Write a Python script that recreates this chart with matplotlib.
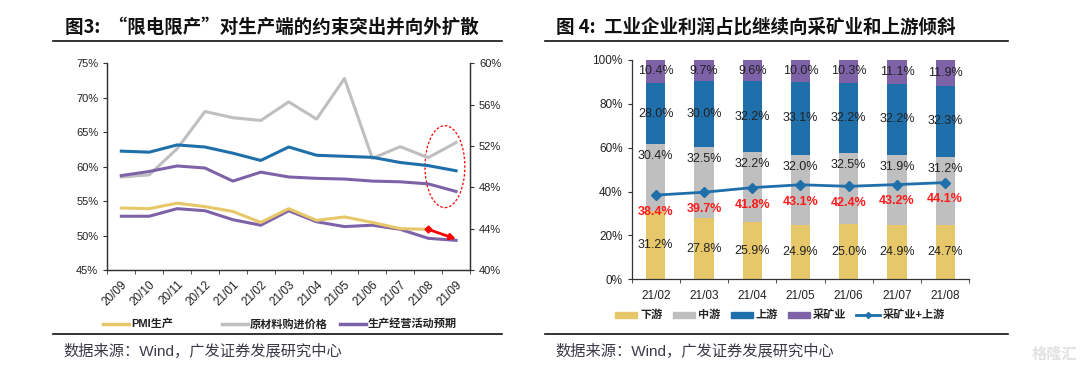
import matplotlib
matplotlib.use('Agg')
import matplotlib.pyplot as plt
from matplotlib.lines import Line2D
from matplotlib.patches import Ellipse, Rectangle
import numpy as np

plt.rcParams['font.family'] = ['Liberation Sans', 'Noto Sans CJK SC', 'DejaVu Sans']

# ---- 图3 数据 (PMI 分项, %) ----
months = ['20/09', '20/10', '20/11', '20/12', '21/01', '21/02', '21/03',
          '21/04', '21/05', '21/06', '21/07', '21/08', '21/09']
pmi_prod = [54.0, 53.9, 54.7, 54.2, 53.5, 51.9, 53.9, 52.2, 52.7, 51.9, 51.0, 50.9, 49.5]
raw_price = [58.5, 58.8, 62.6, 68.0, 67.1, 66.7, 69.4, 66.9, 72.8, 61.2, 62.9, 61.3, 63.5]
expect = [58.7, 59.3, 60.1, 59.8, 57.9, 59.2, 58.5, 58.3, 58.2, 57.9, 57.8, 57.5, 56.4]
new_order = [52.8, 52.8, 53.9, 53.6, 52.3, 51.5, 53.6, 52.0, 51.3, 51.5, 50.9, 49.6, 49.3]
pmi = [51.5, 51.4, 52.1, 51.9, 51.3, 50.6, 51.9, 51.1, 51.0, 50.9, 50.4, 50.1, 49.6]  # 右轴

# ---- 图4 数据 (利润占比, %) ----
periods = ['21/02', '21/03', '21/04', '21/05', '21/06', '21/07', '21/08']
down = [31.2, 27.8, 25.9, 24.9, 25.0, 24.9, 24.7]
mid = [30.4, 32.5, 32.2, 32.0, 32.5, 31.9, 31.2]
up = [28.0, 30.0, 32.2, 33.1, 32.2, 32.2, 32.3]
mining = [10.4, 9.7, 9.6, 10.0, 10.3, 11.1, 11.9]
mining_up = [38.4, 39.7, 41.8, 43.1, 42.4, 43.2, 44.1]

YEL = '#E6C86A'
GRY = '#BFBFBF'
BLU = '#1F6FAA'
PUR = '#7E62A8'
TXT = '#222222'

fig = plt.figure(figsize=(10.8, 3.69), dpi=100)

# ================= 左图 =================
ax = fig.add_axes([0.0994, 0.2683, 0.3358, 0.5602])
ax2 = ax.twinx()
x = np.arange(len(months))

ax.plot(x, raw_price, color=GRY, lw=2.2)
ax.plot(x, expect, color=PUR, lw=2.2)
ax.plot(x, new_order, color=PUR, lw=2.2)
ax.plot(x[:12], pmi_prod[:12], color=YEL, lw=2.2)
ax2.plot(x, pmi, color=BLU, lw=2.2)

# 红色箭头
ax.plot(x[11], pmi_prod[11], marker='D', ms=3.5, color='red')
ax.annotate('', xy=(x[12], pmi_prod[12]), xytext=(x[11], pmi_prod[11]),
            arrowprops=dict(arrowstyle='-|>', color='red', lw=2, mutation_scale=8,
                            shrinkA=0, shrinkB=0))
ax.add_patch(Ellipse((11.6, 60.0), 1.43, 11.9, fill=False, ec='red', ls=(0, (2, 1.5)), lw=0.9))

ax.set_xlim(-0.5, 12.5)
ax.set_ylim(45, 75)
ax2.set_ylim(40, 60)
ax.set_yticks(np.arange(45, 76, 5))
ax.set_yticklabels(['%d%%' % v for v in range(45, 76, 5)], fontsize=8, color=TXT)
ax2.set_yticks(np.arange(40, 61, 4))
ax2.set_yticklabels(['%d%%' % v for v in range(40, 61, 4)], fontsize=8, color=TXT)
ax.set_xticks(x)
ax.set_xticklabels(months, rotation=45, ha='right', va='top', rotation_mode='anchor',
                   fontsize=8.5, color=TXT)
ax.tick_params(axis='x', length=0, pad=6)
ax.set_xticks(np.arange(-0.5, 13, 1), minor=True)
ax.tick_params(axis='x', which='minor', length=3, color='#333333')
ax.tick_params(axis='y', length=3, color='#333333')
ax2.tick_params(axis='y', length=3, color='#333333')
for a in (ax, ax2):
    a.spines['top'].set_visible(False)
    for s in ('left', 'right', 'bottom'):
        a.spines[s].set_color('#333333')
        a.spines[s].set_linewidth(0.9)

# ================= 右图 =================
bx = fig.add_axes([0.5849, 0.2431, 0.3126, 0.5943])
p = np.arange(len(periods))
w = 0.4
b1 = np.array(down)
b2 = b1 + np.array(mid)
b3 = b2 + np.array(up)
bx.bar(p, down, w, color=YEL)
bx.bar(p, mid, w, bottom=b1, color=GRY)
bx.bar(p, up, w, bottom=b2, color=BLU)
bx.bar(p, mining, w, bottom=b3, color=PUR)
bx.plot(p, mining_up, color=BLU, lw=2, marker='D', ms=5)

for i in range(len(p)):
    bx.text(p[i], down[i] / 2, '%.1f%%' % down[i], ha='center', va='center', fontsize=9, color=TXT)
    bx.text(p[i], b2[i] - 5.6, '%.1f%%' % mid[i], ha='center', va='center', fontsize=9, color=TXT)
    bx.text(p[i], b2[i] + up[i] / 2, '%.1f%%' % up[i], ha='center', va='center', fontsize=9, color=TXT)
    bx.text(p[i], b3[i] + mining[i] / 2, '%.1f%%' % mining[i], ha='center', va='center', fontsize=9, color=TXT)
    bx.text(p[i], mining_up[i] - 7.7, '%.1f%%' % mining_up[i], ha='center', va='center',
            fontsize=9, color='#FF1A1A', fontweight='bold')

bx.set_xlim(-0.5, 6.5)
bx.set_ylim(0, 100)
bx.set_yticks(np.arange(0, 101, 20))
bx.set_yticklabels(['%d%%' % v for v in range(0, 101, 20)], fontsize=8.5, color=TXT)
bx.set_xticks(p)
bx.set_xticklabels(periods, fontsize=8.5, color=TXT)
bx.tick_params(axis='x', length=0, pad=8)
bx.set_xticks(np.arange(-0.5, 7, 1), minor=True)
bx.tick_params(axis='x', which='minor', length=3, color='#333333')
bx.tick_params(axis='y', length=3, color='#333333')
bx.spines['top'].set_visible(False)
bx.spines['right'].set_visible(False)
for s in ('left', 'bottom'):
    bx.spines[s].set_color('#333333')
    bx.spines[s].set_linewidth(0.9)

# ================= 标题、图例、来源 =================
W, H = 1080.0, 369.0


def fx(px):
    return px / W


def fy(py):
    return 1 - py / H


cjk = ['Noto Sans CJK SC', 'DejaVu Sans']
fig.text(fx(65), fy(27), '图3:  “限电限产”对生产端的约束突出并向外扩散', fontsize=13.3,
         fontweight='bold', color='#111111', va='center', ha='left', family=cjk)
fig.text(fx(556), fy(27), '图 4:  工业企业利润占比继续向采矿业和上游倾斜', fontsize=13.3,
         fontweight='bold', color='#111111', va='center', ha='left', family=cjk)

for x0, x1 in ((53, 502), (545, 1008)):
    fig.add_artist(Line2D([fx(x0), fx(x1)], [fy(41), fy(41)], color='#111111', lw=1.2))
    fig.add_artist(Line2D([fx(x0), fx(x1)], [fy(334), fy(334)], color='#111111', lw=1.2))

src = '数据来源：Wind，广发证券发展研究中心'
fig.text(fx(63), fy(351), src, fontsize=11, color='#3A3A48', va='center', ha='left')
fig.text(fx(555), fy(351), src, fontsize=11, color='#3A3A48', va='center', ha='left')
fig.text(fx(1032), fy(355), '格隆汇', fontsize=11, color='#E2E2E2', va='center', ha='left',
         fontweight='bold')

# 左图图例
for lx, lbl, c in ((103, 'PMI生产', YEL), (222, '原材料购进价格', GRY), (340, '生产经营活动预期', PUR)):
    fig.add_artist(Line2D([fx(lx), fx(lx + 26)], [fy(324), fy(324)], color=c, lw=2.5))
    fig.text(fx(lx + 28), fy(324), lbl, fontsize=8, fontweight='bold', color=TXT, va='center')

# 右图图例
for lx, lbl, c in ((615, '下游', YEL), (673, '中游', GRY), (731, '上游', BLU), (788, '采矿业', PUR)):
    fig.add_artist(Rectangle((fx(lx), fy(318)), fx(22), 6 / H, color=c, transform=fig.transFigure))
    fig.text(fx(lx + 25), fy(315), lbl, fontsize=8, fontweight='bold', color=TXT, va='center')
fig.add_artist(Line2D([fx(856), fx(880)], [fy(315), fy(315)], color=BLU, lw=2))
fig.add_artist(Line2D([fx(868)], [fy(315)], color=BLU, marker='D', ms=3))
fig.text(fx(883), fy(315), '采矿业+上游', fontsize=8, fontweight='bold', color=TXT, va='center')

fig.savefig('out.png', dpi=100)
